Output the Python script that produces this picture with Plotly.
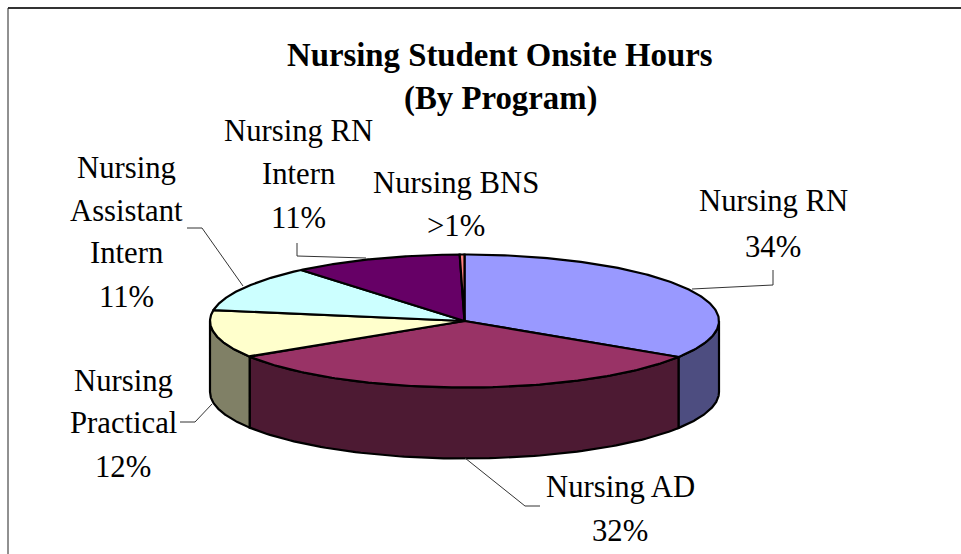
import numpy as np
import plotly.graph_objects as go

# --- data ---
programs = ["Nursing RN", "Nursing AD", "Nursing Practical",
            "Nursing Assistant Intern", "Nursing RN Intern", "Nursing BNS"]
shares = [34.1, 31.9, 11.6, 11.3, 10.8, 0.3]
share_labels = ["34%", "32%", "12%", "11%", "11%", ">1%"]
title_lines = ["Nursing Student Onsite Hours", "(By Program)"]

# --- styling and layout ---
W, H = 961, 554
top_colors = ["#9999FF", "#993366", "#FFFFCC", "#CCFFFF", "#660066", "#FF8080"]
wall_colors = ["#4D4D80", "#4D1A33", "#808066", "#668080", "#330033", "#804040"]
CX, CY, RX, RY, DEPTH = 464.5, 321, 254.5, 66.5, 71
FONT = "Liberation Serif"
LABEL_SIZE, TITLE_SIZE = 30.7, 32.8

label_layout = [
    (["Nursing RN", "34%"], 773, [201, 247]),
    (["Nursing AD", "32%"], 620, [487, 531]),
    (["Nursing", "Practical", "12%"], 123, [381, 423, 467]),
    (["Nursing", "Assistant", "Intern", "11%"], 126, [168, 211, 253, 297]),
    (["Nursing RN", "Intern", "11%"], 298, [131, 174, 218]),
    (["Nursing BNS", ">1%"], 456, [183, 226]),
]
leaders = [
    ([773, 773, 692], [270, 285, 289]),
    ([465, 525, 540], [458, 506, 506]),
    ([212, 195, 180], [404, 422, 422]),
    ([243, 202, 187], [286, 228, 228]),
    ([297, 297, 366], [243, 256, 258]),
]


def ellipse(t):
    """t in degrees clockwise from the top of the pie."""
    a = np.radians(t)
    return CX + RX * np.sin(a), CY - RY * np.cos(a)


edges = np.concatenate([[0], np.cumsum(shares)]) / np.sum(shares) * 360
fig = go.Figure()


def polygon(x, y, color):
    fig.add_trace(go.Scatter(x=x, y=y, mode="lines", fill="toself", fillcolor=color,
                             line=dict(color="#000000", width=2.2), hoverinfo="skip",
                             showlegend=False))


# walls of the slices facing the viewer (visible range is 90..270 deg)
for i in range(len(shares)):
    lo, hi = max(edges[i], 90), min(edges[i + 1], 270)
    if hi <= lo:
        continue
    x, y = ellipse(np.linspace(lo, hi, 90))
    polygon(np.r_[x, x[::-1], x[0]], np.r_[y, y[::-1] + DEPTH, y[0]], wall_colors[i])

# top faces
for i in range(len(shares)):
    x, y = ellipse(np.linspace(edges[i], edges[i + 1], 150))
    polygon(np.r_[CX, x, CX], np.r_[CY, y, CY], top_colors[i])

# leader lines
for lx, ly in leaders:
    fig.add_trace(go.Scatter(x=lx, y=ly, mode="lines", line=dict(color="#333333", width=1),
                             hoverinfo="skip", showlegend=False))

annotations = []
for (lines, x, ys) in label_layout:
    for line, y in zip(lines, ys):
        annotations.append(dict(x=x, y=y, text=line, showarrow=False, xanchor="center",
                                yanchor="middle", font=dict(family=FONT, size=LABEL_SIZE, color="#000000")))
for line, y in zip(title_lines, [55, 98]):
    annotations.append(dict(x=500, y=y, text=f"<b>{line}</b>", showarrow=False, xanchor="center",
                            yanchor="middle", font=dict(family=FONT, size=TITLE_SIZE, color="#000000")))

fig.update_layout(
    width=W, height=H, margin=dict(l=0, r=0, t=0, b=0),
    paper_bgcolor="#FFFFFF", plot_bgcolor="#FFFFFF", showlegend=False,
    xaxis=dict(range=[0, W], visible=False, fixedrange=True),
    yaxis=dict(range=[H, 0], visible=False, fixedrange=True),
    annotations=annotations,
    shapes=[
        dict(type="line", x0=8, x1=W, y0=8, y1=8, line=dict(color="#333333", width=2)),
        dict(type="line", x0=8, x1=8, y0=8, y1=H, line=dict(color="#222222", width=1)),
    ],
)
fig.write_html("out.html", config={"displayModeBar": False},
               post_script="document.body.style.margin='0';document.documentElement.style.overflow='hidden';")
